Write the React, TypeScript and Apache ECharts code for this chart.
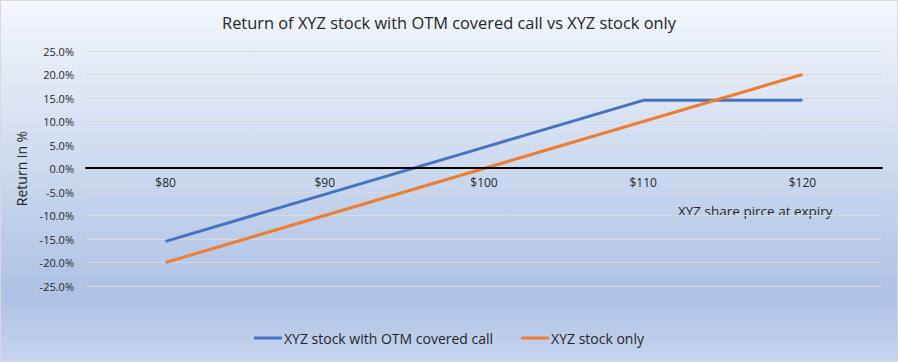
import React, { useEffect, useRef } from "react";
import * as echarts from "echarts";

const categories = ["$80", "$90", "$100", "$110", "$120"];
const coveredCall = [-15.5, -5.5, 4.5, 14.5, 14.5];
const stockOnly = [-20, -10, 0, 10, 20];
const seriesNames = ["XYZ stock with OTM covered call", "XYZ stock only"];
const titleText = "Return of XYZ stock with OTM covered call vs XYZ stock only";
const yAxisName = "Return in %";
const xAxisName = "XYZ share pirce at expiry";

const FONT = "Open Sans";

export default function App() {
  const ref = useRef<HTMLDivElement>(null);
  useEffect(() => {
    document.body.style.margin = "0";
    const chart = echarts.init(ref.current!, null, { renderer: "svg" });
    chart.setOption({
      animation: false,
      backgroundColor: {
        type: "linear",
        x: 0,
        y: 0,
        x2: 0,
        y2: 1,
        colorStops: [
          { offset: 0, color: "#f4f7fc" },
          { offset: 0.82, color: "#adc2e5" },
          { offset: 1, color: "#c6d4ee" },
        ],
      },
      textStyle: { fontFamily: FONT },
      title: {
        text: titleText,
        left: "center",
        top: 8,
        textStyle: { fontSize: 16.4, fontWeight: "normal", color: "#262626", fontFamily: FONT },
      },
      grid: { left: 85, right: 15, top: 50, bottom: 75, containLabel: false },
      legend: {
        bottom: 11,
        left: "center",
        itemWidth: 28,
        itemHeight: 3,
        itemGap: 28,
        icon: "rect",
        textStyle: { fontSize: 14, color: "#262626", fontFamily: FONT, padding: [0, 0, 0, -3] },
        data: seriesNames,
      },
      xAxis: {
        type: "category",
        data: categories,
        boundaryGap: true,
        position: "bottom",
        offset: -118.5,
        z: 5,
        axisLine: { onZero: false, lineStyle: { color: "#000", width: 2 } },
        axisTick: { show: false },
        axisLabel: { fontSize: 12, color: "#262626", margin: 9, fontFamily: FONT },
        splitLine: { show: false },
      },
      yAxis: {
        type: "value",
        min: -25,
        max: 25,
        interval: 5,
        name: yAxisName,
        nameLocation: "middle",
        nameRotate: 90,
        nameGap: 46,
        nameTextStyle: { fontSize: 14, color: "#262626", fontFamily: FONT },
        axisLine: { show: false },
        axisTick: { show: false },
        axisLabel: {
          fontSize: 11,
          color: "#262626",
          margin: 12,
          fontFamily: FONT,
          formatter: (v: number) => v.toFixed(1) + "%",
        },
        splitLine: { lineStyle: { color: "#d9d9d9", width: 1 } },
      },
      graphic: [
        {
          type: "text",
          left: 677,
          top: 203,
          style: { text: xAxisName, fontSize: 13.5, fill: "#262626", fontFamily: FONT },
        },
      ],
      series: [
        {
          name: seriesNames[0],
          type: "line",
          data: coveredCall,
          symbol: "none",
          lineStyle: { color: "#4472c4", width: 3 },
          itemStyle: { color: "#4472c4" },
        },
        {
          name: seriesNames[1],
          type: "line",
          data: stockOnly,
          symbol: "none",
          lineStyle: { color: "#ed7d31", width: 3 },
          itemStyle: { color: "#ed7d31" },
        },
      ],
    });
    return () => chart.dispose();
  }, []);
  return (
    <div
      ref={ref}
      style={{
        position: "absolute",
        left: 0,
        top: 0,
        width: 898,
        height: 362,
        boxSizing: "border-box",
        border: "1px solid #d9d9d9",
      }}
    />
  );
}
